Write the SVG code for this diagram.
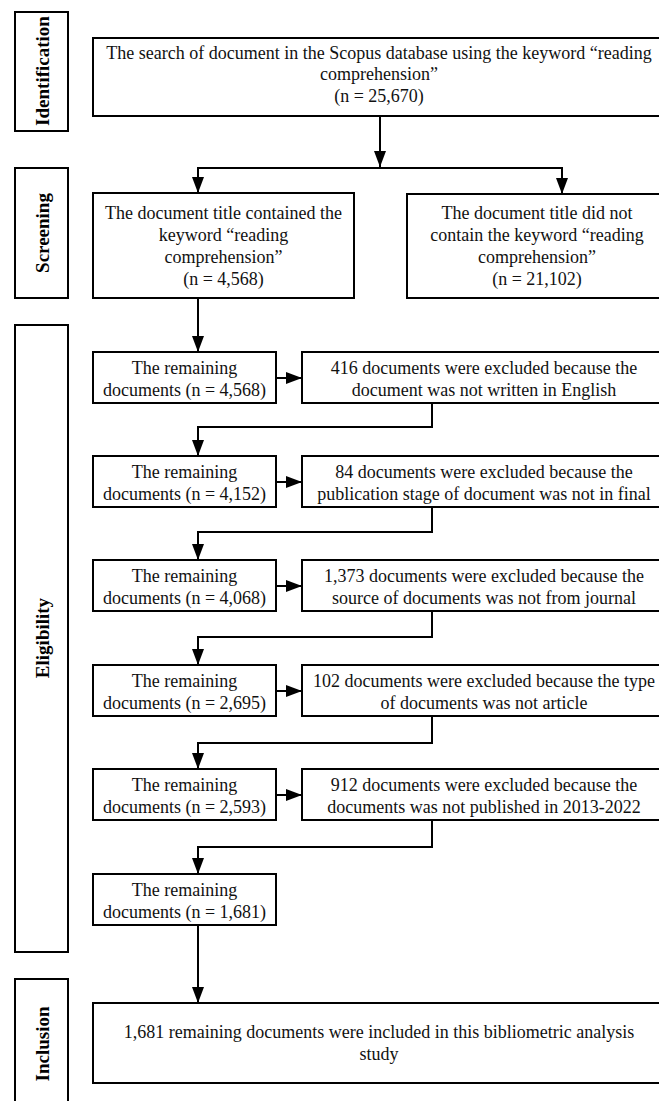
<svg xmlns="http://www.w3.org/2000/svg" width="659" height="1101" viewBox="0 0 659 1101">
<style>
.box{fill:#fff;stroke:#000;stroke-width:2}
.t{font-family:"Liberation Serif","Times New Roman",serif;font-size:18px;fill:#111;text-anchor:middle}
.lab{font-family:"Liberation Serif","Times New Roman",serif;font-size:19px;font-weight:bold;fill:#000;text-anchor:middle;dominant-baseline:central}
.c{fill:none;stroke:#000;stroke-width:2}
</style>
<defs>
<marker id="ah" viewBox="0 0 16 12" markerWidth="16" markerHeight="12" refX="16" refY="6" orient="auto" markerUnits="userSpaceOnUse">
<path d="M0 0 L16 6 L0 12 z" fill="#000"/>
</marker>
</defs>
<rect width="659" height="1101" fill="#fff"/>

<g id="stage-identification"><rect class="box" x="15" y="12" width="53" height="119"/><text class="lab" transform="translate(42,71) rotate(-90)">Identification</text></g>
<g id="stage-screening"><rect class="box" x="15" y="168" width="53" height="130"/><text class="lab" transform="translate(42,233) rotate(-90)">Screening</text></g>
<g id="stage-eligibility"><rect class="box" x="15" y="325" width="53" height="627"/><text class="lab" transform="translate(42,638) rotate(-90)">Eligibility</text></g>
<g id="stage-inclusion"><rect class="box" x="15" y="979" width="53" height="132"/><text class="lab" transform="translate(42,1044) rotate(-90)">Inclusion</text></g>

<g id="connectors">
<path class="c" d="M380 116 V167" marker-end="url(#ah)"/>
<path class="c" d="M198 193 V168 H562 V194" />
<path class="c" d="M198 168 V193" marker-end="url(#ah)"/>
<path class="c" d="M562 168 V194" marker-end="url(#ah)"/>
<path class="c" d="M198 298 V352" marker-end="url(#ah)"/>
<path class="c" d="M276 378 H302" marker-end="url(#ah)"/>
<path class="c" d="M276 482 H302" marker-end="url(#ah)"/>
<path class="c" d="M276 586 H302" marker-end="url(#ah)"/>
<path class="c" d="M276 691 H302" marker-end="url(#ah)"/>
<path class="c" d="M276 795 H302" marker-end="url(#ah)"/>
<path class="c" d="M432 403 V427 H198 V456" marker-end="url(#ah)"/>
<path class="c" d="M432 507 V532 H198 V560" marker-end="url(#ah)"/>
<path class="c" d="M432 611 V637 H198 V665" marker-end="url(#ah)"/>
<path class="c" d="M432 716 V743 H198 V769" marker-end="url(#ah)"/>
<path class="c" d="M432 820 V847 H198 V874" marker-end="url(#ah)"/>
<path class="c" d="M198 925 V1003" marker-end="url(#ah)"/>
</g>

<g id="n-search"><rect class="box" x="93" y="38" width="572" height="78"/>
<text class="t" x="379" y="58.5">The search of document in the Scopus database using the keyword “reading</text>
<text class="t" x="379" y="80">comprehension”</text>
<text class="t" x="379" y="101.5">(n = 25,670)</text></g>

<g id="n-title-yes"><rect class="box" x="93" y="193" width="261" height="105"/>
<text class="t" x="223.5" y="219">The document title contained the</text>
<text class="t" x="223.5" y="241">keyword “reading</text>
<text class="t" x="223.5" y="263">comprehension”</text>
<text class="t" x="223.5" y="285">(n = 4,568)</text></g>

<g id="n-title-no"><rect class="box" x="407" y="194" width="260" height="104"/>
<text class="t" x="537" y="219">The document title did not</text>
<text class="t" x="537" y="241">contain the keyword “reading</text>
<text class="t" x="537" y="263">comprehension”</text>
<text class="t" x="537" y="285">(n = 21,102)</text></g>

<g id="n-rem1"><rect class="box" x="93" y="352" width="183" height="51"/>
<text class="t" x="184.5" y="374">The remaining</text><text class="t" x="184.5" y="395.5">documents (n = 4,568)</text></g>
<g id="n-exc1"><rect class="box" x="302" y="352" width="364" height="51"/>
<text class="t" x="484" y="374">416 documents were excluded because the</text><text class="t" x="484" y="395.5">document was not written in English</text></g>

<g id="n-rem2"><rect class="box" x="93" y="456" width="183" height="51"/>
<text class="t" x="184.5" y="478">The remaining</text><text class="t" x="184.5" y="499.5">documents (n = 4,152)</text></g>
<g id="n-exc2"><rect class="box" x="302" y="456" width="364" height="51"/>
<text class="t" x="484" y="478">84 documents were excluded because the</text><text class="t" x="484" y="499.5">publication stage of document was not in final</text></g>

<g id="n-rem3"><rect class="box" x="93" y="560" width="183" height="51"/>
<text class="t" x="184.5" y="582">The remaining</text><text class="t" x="184.5" y="603.5">documents (n = 4,068)</text></g>
<g id="n-exc3"><rect class="box" x="302" y="560" width="364" height="51"/>
<text class="t" x="484" y="582">1,373 documents were excluded because the</text><text class="t" x="484" y="603.5">source of documents was not from journal</text></g>

<g id="n-rem4"><rect class="box" x="93" y="665" width="183" height="51"/>
<text class="t" x="184.5" y="687">The remaining</text><text class="t" x="184.5" y="708.5">documents (n = 2,695)</text></g>
<g id="n-exc4"><rect class="box" x="302" y="665" width="364" height="51"/>
<text class="t" x="484" y="687">102 documents were excluded because the type</text><text class="t" x="484" y="708.5">of documents was not article</text></g>

<g id="n-rem5"><rect class="box" x="93" y="769" width="183" height="51"/>
<text class="t" x="184.5" y="791">The remaining</text><text class="t" x="184.5" y="812.5">documents (n = 2,593)</text></g>
<g id="n-exc5"><rect class="box" x="302" y="769" width="364" height="51"/>
<text class="t" x="484" y="791">912 documents were excluded because the</text><text class="t" x="484" y="812.5">documents was not published in 2013-2022</text></g>

<g id="n-rem6"><rect class="box" x="93" y="874" width="183" height="51"/>
<text class="t" x="184.5" y="896">The remaining</text><text class="t" x="184.5" y="917.5">documents (n = 1,681)</text></g>

<g id="n-included"><rect class="box" x="93" y="1003" width="572" height="80"/>
<text class="t" x="379" y="1038">1,681 remaining documents were included in this bibliometric analysis</text>
<text class="t" x="379" y="1060">study</text></g>
</svg>
